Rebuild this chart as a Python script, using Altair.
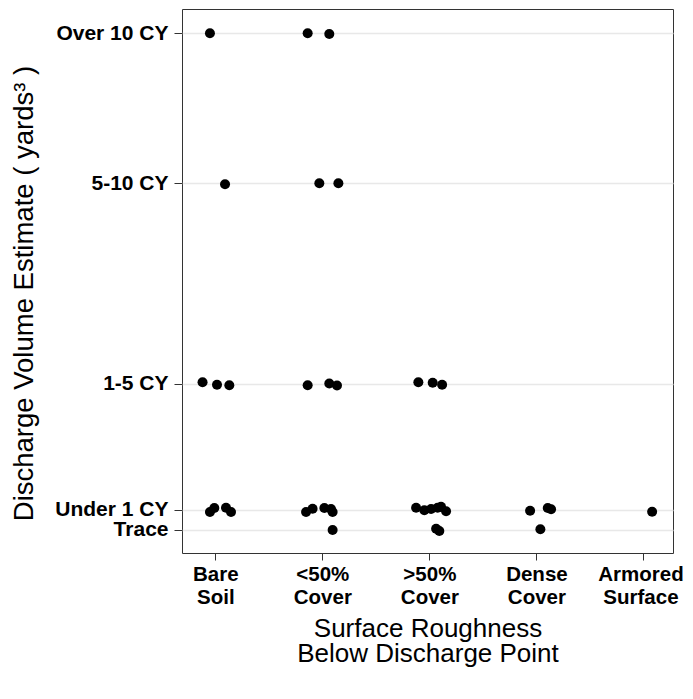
import json
import altair as alt
import pandas as pd

# x categories (positions 1..5) and y classes
categories = ["Bare Soil", "<50% Cover", ">50% Cover", "Dense Cover", "Armored Surface"]
levels = ["Trace", "Under 1 CY", "1-5 CY", "5-10 CY", "Over 10 CY"]
level_pos = [0.0, 1.0, 7.3, 17.3, 24.8]

# each observation: category index, level index, horizontal jitter (category units), vertical jitter (y units)
point_cat = [0, 1, 1,
             0, 1, 1,
             0, 0, 0, 1, 1, 1, 2, 2, 2,
             0, 0, 0, 0, 1, 1, 1, 1, 1, 2, 2, 2, 2, 2, 2, 3, 3, 3, 4,
             1, 2, 2, 3]
point_level = [4, 4, 4,
               3, 3, 3,
               2, 2, 2, 2, 2, 2, 2, 2, 2,
               1, 1, 1, 1, 1, 1, 1, 1, 1, 1, 1, 1, 1, 1, 1, 1, 1, 1, 1,
               0, 0, 0, 0]
jitter_x = [-0.050, -0.137, 0.065,
            0.091, -0.028, 0.150,
            -0.119, 0.016, 0.131, -0.137, 0.065, 0.137, -0.103, 0.031, 0.119,
            -0.050, -0.009, 0.100, 0.147, -0.152, -0.091, 0.019, 0.081, 0.096,
            -0.124, -0.047, 0.016, 0.077, 0.109, 0.156, -0.059, 0.106, 0.137, 0.081,
            0.096, 0.063, 0.093, 0.037]
jitter_y = [0.01, 0.01, -0.025,
            -0.035, 0.015, 0.015,
            0.065, -0.065, -0.085, -0.085, 0.0, -0.1, 0.065, 0.035, -0.065,
            -0.125, 0.075, 0.09, -0.125, -0.125, 0.04, 0.075, 0.025, -0.125,
            0.09, -0.04, 0.025, 0.09, 0.14, -0.09, -0.06, 0.075, 0.01, -0.11,
            -0.025, 0.04, -0.075, 0.01]

df = pd.DataFrame({
    "x": [c + 1 + j for c, j in zip(point_cat, jitter_x)],
    "y": [level_pos[l] + j for l, j in zip(point_level, jitter_y)],
})

x_expr = " : ".join(
    f"datum.value == {i + 1} ? {json.dumps(name.split(' ', 1))}" for i, name in enumerate(categories)
) + " : ''"
y_expr = " : ".join(
    f"datum.value == {p} ? {json.dumps(name)}" for p, name in zip(level_pos, levels)
) + " : ''"

FONT = "Liberation Sans"

chart = alt.Chart(df).mark_circle(size=100, color="black", opacity=1).encode(
    x=alt.X(
        "x:Q",
        scale=alt.Scale(domain=[0.689, 5.276], nice=False, zero=False),
        axis=alt.Axis(
            values=[1, 2, 3, 4, 5],
            labelExpr=x_expr,
            title=["Surface Roughness", "Below Discharge Point"],
            grid=False,
            domain=False,
            tickSize=7,
            tickColor="#333333",
            labelPadding=4,
            labelOverlap=False,
            labelFlush=False,
            labelOffset={"condition": {"test": f"datum.value == {len(categories)}", "value": -3}, "value": 0},
            labelFont=FONT,
            labelFontSize=20.5,
            labelFontWeight="bold",
            labelColor="black",
            labelLineHeight=23,
            labelBaseline="top",
            titleFont=FONT,
            titleFontSize=26,
            titleFontWeight="normal",
            titleColor="black",
            titleLineHeight=25,
            titleBaseline="top",
            titleY=62,
        ),
    ),
    y=alt.Y(
        "y:Q",
        scale=alt.Scale(domain=[-1.175, 26.025], nice=False, zero=False),
        axis=alt.Axis(
            values=level_pos,
            labelExpr=y_expr,
            labelOverlap=False,
            labelFlush=False,
            title="Discharge Volume Estimate ( yards³ )",
            grid=True,
            gridColor="#e8e8e8",
            gridWidth=1.5,
            domain=False,
            tickSize=8,
            tickColor="#333333",
            labelPadding=6,
            labelFont=FONT,
            labelFontSize=21,
            labelFontWeight="bold",
            labelColor="black",
            titleFont=FONT,
            titleFontSize=27.5,
            titleFontWeight="normal",
            titleColor="black",
            titleBaseline="alphabetic",
            titleX=-150,
            titleY=284,
        ),
    ),
).properties(
    width=491,
    height=544,
    autosize=alt.AutoSizeParams(type="none"),
    padding={"left": 174, "top": 1, "right": 11, "bottom": 130},
).configure_view(stroke="#333333", strokeWidth=1)

chart.save("out.html", embed_options={"renderer": "svg", "actions": False})
